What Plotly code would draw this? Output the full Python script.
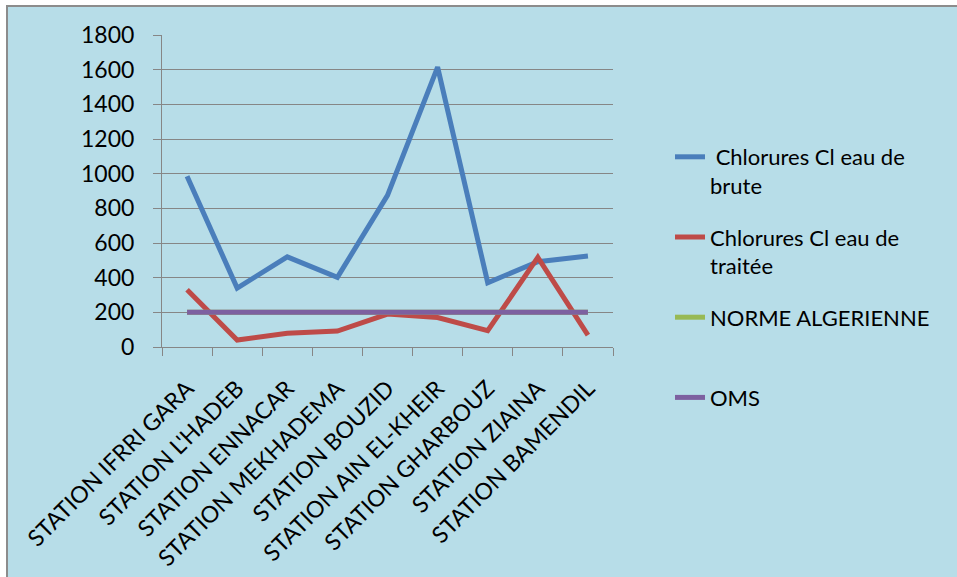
import plotly.graph_objects as go

stations = ["STATION IFRRI GARA", "STATION L'HADEB", "STATION ENNACAR", "STATION MEKHADEMA",
            "STATION BOUZID", "STATION AIN EL-KHEIR", "STATION GHARBOUZ", "STATION ZIAINA",
            "STATION BAMENDIL"]
cl_brute = [985, 340, 520, 402, 875, 1615, 371, 492, 525]
cl_traitee = [330, 40, 79, 92, 190, 170, 94, 517, 69]
norme_algerienne = [200] * 9
oms = [200] * 9
yticks = [0, 200, 400, 600, 800, 1000, 1200, 1400, 1600, 1800]

names = [" Chlorures Cl eau de<br>brute", "Chlorures Cl eau de<br>traitée",
         "NORME ALGERIENNE<br> ", "OMS<br> "]
colors = ["#4A7EBB", "#BE4B48", "#98B954", "#7D60A0"]
series = [cl_brute, cl_traitee, norme_algerienne, oms]

FONT = "Lato"
FS = 23
W, H = 957, 577
L, R, T, B = 162, 344, 35, 230
pw, ph = W - L - R, H - T - B

fig = go.Figure()
for i, (nm, col, ys) in enumerate(zip(names, colors, series)):
    fig.add_trace(go.Scatter(x=stations, y=ys, mode="lines", name=nm,
                             legendgroup=str(i),
                             line=dict(color=col, width=5)))

fig.update_layout(
    width=W, height=H,
    margin=dict(l=L, r=R, t=T, b=B, autoexpand=False),
    paper_bgcolor="white",
    plot_bgcolor="white",
    font=dict(family=FONT, size=FS, color="black"),
    showlegend=True,
    legend=dict(x=(670 - L) / pw, xanchor="left", y=(H - B - 136) / ph, yanchor="top",
                bgcolor="rgba(0,0,0,0)", valign="top", tracegroupgap=20,
                font=dict(family=FONT, size=FS - 1, color="black")),
    xaxis=dict(type="category", tickangle=-45, tickson="boundaries", ticks="outside",
               ticklen=8, tickcolor="#868686", showline=True, linecolor="#868686",
               linewidth=1, showgrid=False, range=[-0.5, 8.5],
               ticklabelstandoff=18,
               tickfont=dict(family=FONT, size=FS)),
    yaxis=dict(range=[0, 1800], tickvals=yticks, ticks="outside", ticklen=8,
               tickcolor="#868686", showline=True, linecolor="#868686", linewidth=1,
               showgrid=True, gridcolor="#868686", gridwidth=1.3, zeroline=False,
               ticklabelstandoff=14, tickfont=dict(family=FONT, size=FS)),
    shapes=[dict(type="rect", xref="paper", yref="paper", layer="below",
                 x0=(7 - L) / pw, x1=(W + 10 - L) / pw,
                 y0=(H - B - (H + 10)) / ph, y1=(H - B - 6) / ph,
                 fillcolor="#B7DDE8", line=dict(color="#8C8C8C", width=2))],
)

fig.write_html("out.html")
